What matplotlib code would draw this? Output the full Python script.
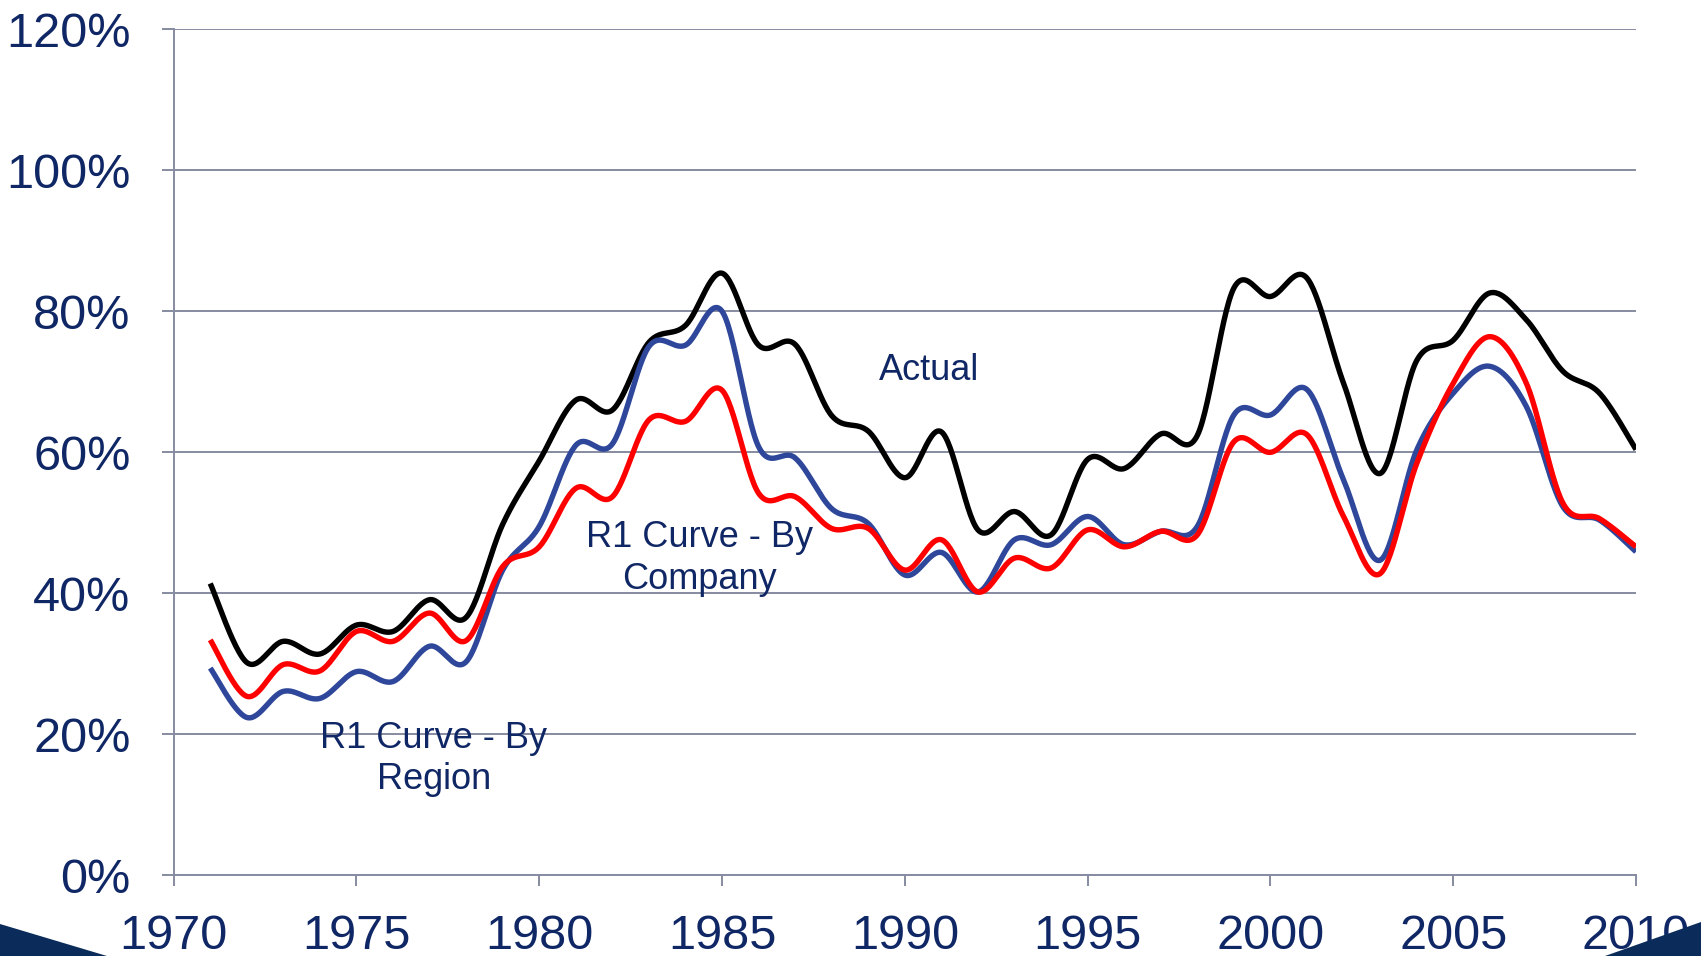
import numpy as np
import matplotlib
matplotlib.use("Agg")
import matplotlib.pyplot as plt
from matplotlib.patches import Polygon

years = list(range(1971, 2011))

actual = [41.4, 30.2, 33.2, 31.4, 35.5, 34.6, 39.1, 36.6, 49.8, 58.8,
          67.4, 66.0, 75.6, 78.0, 85.4, 75.2, 75.3, 65.2, 63.0, 56.4,
          62.9, 49.0, 51.6, 48.3, 59.0, 57.7, 62.6, 62.4, 83.3, 82.1,
          84.7, 69.8, 57.0, 73.0, 75.9, 82.6, 78.8, 71.5, 68.4, 60.4]

by_region = [29.4, 22.4, 26.1, 25.1, 28.9, 27.5, 32.5, 30.3, 43.3, 49.5,
             61.0, 61.2, 75.0, 75.2, 80.0, 60.8, 59.2, 52.0, 49.9, 42.6,
             45.8, 40.2, 47.6, 46.9, 50.9, 46.9, 48.8, 49.5, 65.3, 65.3,
             68.9, 56.1, 44.7, 60.3, 68.4, 72.2, 66.5, 52.3, 50.4, 45.9]

by_company = [33.4, 25.4, 29.9, 29.0, 34.6, 33.2, 37.2, 33.3, 43.8, 46.6,
              54.9, 53.7, 64.6, 64.4, 68.8, 54.2, 53.7, 49.2, 49.2, 43.3,
              47.6, 40.2, 45.0, 43.6, 49.0, 46.6, 48.8, 48.3, 61.5, 60.0,
              62.5, 50.9, 42.8, 58.4, 69.8, 76.4, 69.8, 52.8, 50.6, 46.6]

x_ticks = [1970, 1975, 1980, 1985, 1990, 1995, 2000, 2005, 2010]
y_ticks = [0, 20, 40, 60, 80, 100, 120]
y_ticklabels = ["0%", "20%", "40%", "60%", "80%", "100%", "120%"]

label_actual = "Actual"
label_company = "R1 Curve - By\nCompany"
label_region = "R1 Curve - By\nRegion"

TEXT = "#102766"
GRID = "#868BA1"


def smooth(x, y, n=30):
    x = np.asarray(x, float)
    y = np.asarray(y, float)
    P = np.column_stack([x, y])
    Pp = np.vstack([P[0], P, P[-1]])
    out = []
    t = np.linspace(0, 1, n)[:, None]
    for i in range(len(P) - 1):
        p0 = Pp[i + 1]
        p3 = Pp[i + 2]
        c1 = p0 + (Pp[i + 2] - Pp[i]) / 6.0
        c2 = p3 - (Pp[i + 3] - Pp[i + 1]) / 6.0
        seg = ((1 - t) ** 3) * p0 + 3 * ((1 - t) ** 2) * t * c1 + 3 * (1 - t) * t ** 2 * c2 + t ** 3 * p3
        out.append(seg if i == 0 else seg[1:])
    s = np.vstack(out)
    return s[:, 0], s[:, 1]


plt.rcParams['font.family'] = ['Liberation Sans', 'DejaVu Sans']

fig = plt.figure(figsize=(17.01, 9.56), dpi=100)
ax = fig.add_axes([0.1021, 0.0843, 0.8597, 0.8851])

for data, col in [(actual, "#000000"), (by_region, "#2E479A"), (by_company, "#FF0000")]:
    sx, sy = smooth(years, data)
    ax.plot(sx, sy, color=col, lw=3.9, solid_capstyle='butt', zorder=3)

ax.set_xlim(1970, 2010)
ax.set_ylim(0, 120)
ax.set_xticks(x_ticks)
ax.set_xticklabels([str(v) for v in x_ticks])
ax.set_yticks(y_ticks)
ax.set_yticklabels(y_ticklabels)
ax.yaxis.grid(True, color=GRID, lw=1.4)
ax.set_axisbelow(True)
for s in ["top", "right"]:
    ax.spines[s].set_visible(False)
for s in ["left", "bottom"]:
    ax.spines[s].set_color(GRID)
    ax.spines[s].set_linewidth(1.4)
ax.tick_params(axis='y', length=9, width=1.4, color=GRID, labelsize=35, labelcolor=TEXT, pad=22)
ax.tick_params(axis='x', length=8, width=1.4, color=GRID, labelsize=35, labelcolor=TEXT, pad=20)

ax.text(1990.65, 71.6, label_actual, ha='center', va='center', fontsize=26, color=TEXT)
ax.text(1984.39, 44.9, label_company, ha='center', va='center', fontsize=26, color=TEXT, linespacing=1.25)
ax.text(1977.12, 16.5, label_region, ha='center', va='center', fontsize=26, color=TEXT, linespacing=1.25)

NAVY = "#0B2C5A"
fig.patches.append(Polygon([[0, 956 - 924], [107, 0], [0, 0]], closed=True, transform=None,
                           facecolor=NAVY, edgecolor='none', figure=fig))
fig.patches.append(Polygon([[1701, 956 - 922], [1605, 0], [1701, 0]], closed=True, transform=None,
                           facecolor=NAVY, edgecolor='none', figure=fig))

fig.savefig("out.png", dpi=100)
